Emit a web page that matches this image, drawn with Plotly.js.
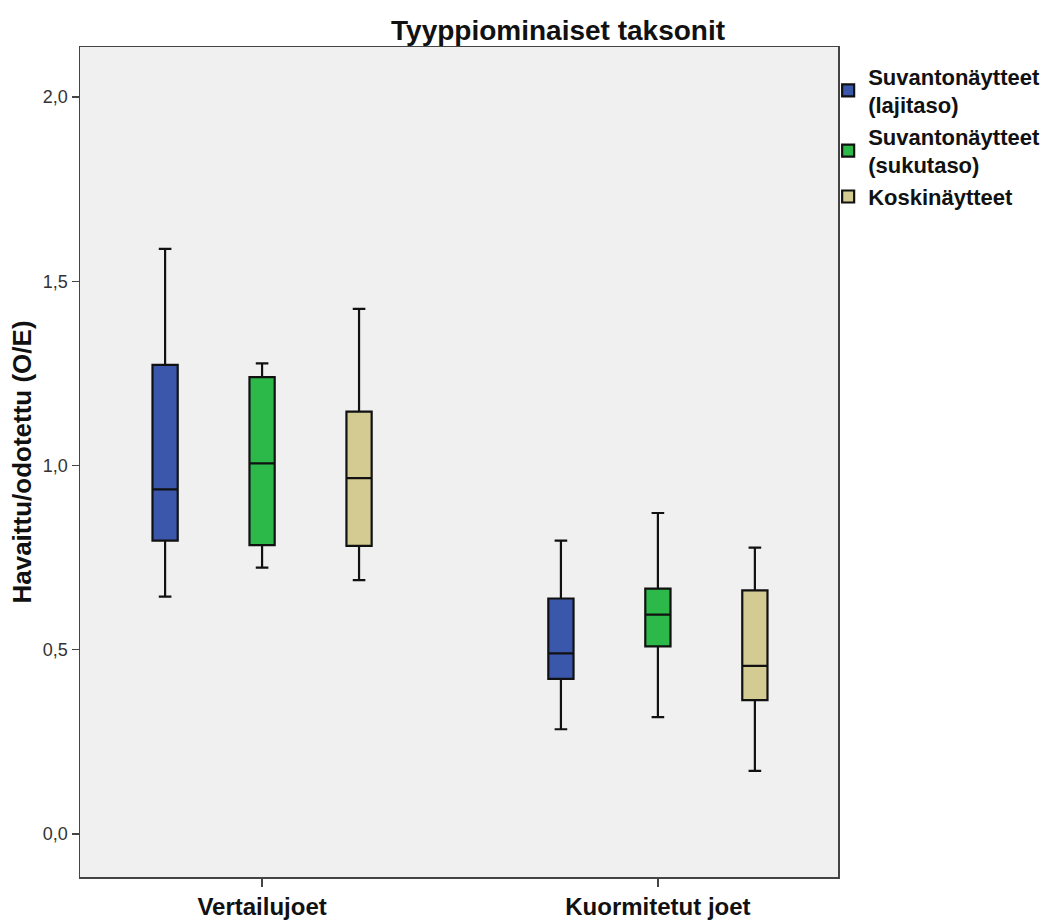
<!DOCTYPE html>
<html>
<head>
<meta charset="utf-8">
<script src="https://cdn.plot.ly/plotly-3.0.1.min.js"></script>
<style>body{margin:0;background:#fff;}#chart{width:1059px;height:923px;}</style>
</head>
<body>
<div id="chart"></div>
<script>
const categories = ['Vertailujoet', 'Kuormitetut joet'];
const seriesNames = ['Suvantonäytteet<br>(lajitaso)', 'Suvantonäytteet<br>(sukutaso)', 'Koskinäytteet'];
const seriesColors = ['#3B57AB', '#2DB84A', '#D4CB93'];

const lowerWhisker = [[0.644, 0.284], [0.723, 0.317], [0.689, 0.171]];
const q1Values     = [[0.796, 0.421], [0.784, 0.509], [0.782, 0.363]];
const medianValues = [[0.935, 0.490], [1.006, 0.595], [0.966, 0.456]];
const q3Values     = [[1.273, 0.639], [1.240, 0.666], [1.146, 0.661]];
const upperWhisker = [[1.588, 0.796], [1.277, 0.871], [1.425, 0.777]];

const yTicks = [0, 0.5, 1.0, 1.5, 2.0];

const FONT = 'Liberation Sans, Arial, sans-serif';

const traces = seriesNames.map((name, i) => ({
  type: 'box',
  name: name,
  x: categories,
  q1: q1Values[i],
  median: medianValues[i],
  q3: q3Values[i],
  lowerfence: lowerWhisker[i],
  upperfence: upperWhisker[i],
  fillcolor: seriesColors[i],
  line: {color: '#111111', width: 2.2},
  whiskerwidth: 0.5,
  boxpoints: false,
  hoverinfo: 'y'
}));

const layout = {
  width: 1059, height: 923,
  paper_bgcolor: '#ffffff',
  plot_bgcolor: '#F0F0F0',
  separators: ', ',
  boxmode: 'group',
  boxgap: 0.265,
  boxgroupgap: 0.74,
  margin: {l: 80, r: 221, t: 47, b: 46},
  title: {
    text: '<b>Tyyppiominaiset taksonit</b>',
    font: {family: FONT, size: 28, color: '#111'},
    x: 0.527, xanchor: 'center', y: 0.9675, yanchor: 'middle'
  },
  font: {family: FONT, color: '#111'},
  xaxis: {
    type: 'category',
    range: [-0.46, 1.455],
    showline: true, linecolor: '#444', linewidth: 1.5, mirror: true,
    ticks: 'outside', ticklen: 8, tickcolor: '#444', tickwidth: 1.5,
    tickfont: {size: 24, color: '#111', family: FONT, weight: 'bold'},
    showgrid: false, zeroline: false
  },
  yaxis: {
    range: [-0.117, 2.136],
    tickvals: yTicks,
    tickformat: '.1f',
    showline: true, linecolor: '#444', linewidth: 1.5, mirror: true,
    ticks: 'outside', ticklen: 7, tickcolor: '#444', tickwidth: 1.5,
    tickfont: {size: 18, color: '#333'},
    showgrid: false, zeroline: false,
    title: {text: '<b>Havaittu/odotettu (O/E)</b>', font: {size: 26, color: '#111'}, standoff: 4}
  },
  legend: {
    x: 0.987, xanchor: 'left', y: 0.99, yanchor: 'top',
    font: {size: 22, color: '#111', family: FONT, weight: 'bold'},
    bgcolor: 'rgba(0,0,0,0)',
    itemwidth: 30
  },
  showlegend: true
};

Plotly.newPlot('chart', traces, layout, {displayModeBar: false, staticPlot: true});
</script>
</body>
</html>
